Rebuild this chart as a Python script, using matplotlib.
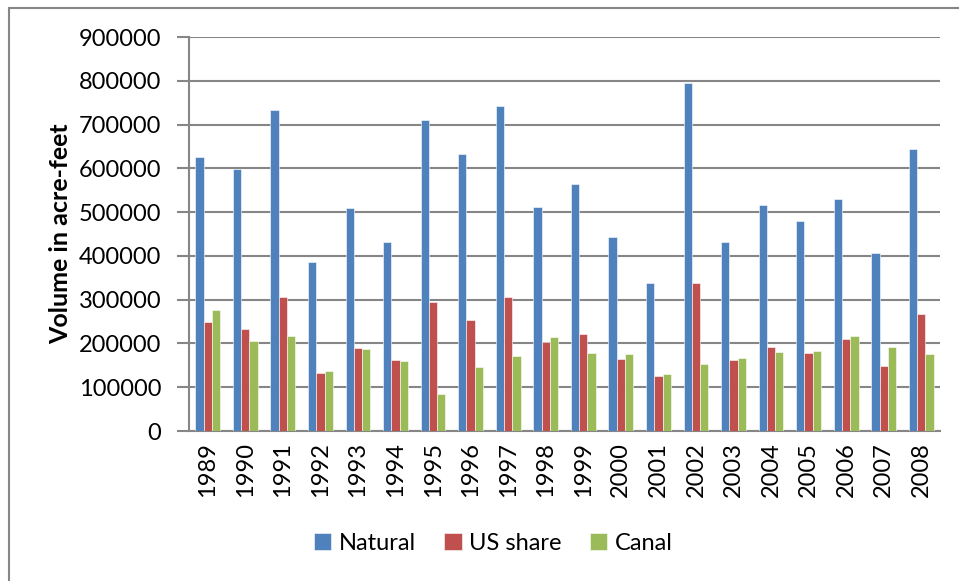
import numpy as np
import matplotlib
matplotlib.use("Agg")
from matplotlib import pyplot as plt
from matplotlib.patches import Rectangle

years = [str(y) for y in range(1989, 2009)]
natural = [627000, 598000, 733000, 387000, 509000, 432000, 711000, 633000, 742000, 511000,
           565000, 443000, 337000, 794000, 432000, 517000, 479000, 531000, 406000, 644000]
us_share = [248000, 233000, 307000, 132000, 189000, 163000, 294000, 253000, 305000, 203000,
            221000, 165000, 125000, 339000, 163000, 193000, 179000, 211000, 148000, 268000]
canal = [276000, 206000, 217000, 137000, 187000, 161000, 84000, 146000, 172000, 214000,
         179000, 177000, 131000, 152000, 166000, 181000, 183000, 218000, 193000, 177000]

series = [("Natural", natural, "#4F81BD"),
          ("US share", us_share, "#C0504D"),
          ("Canal", canal, "#9BBB59")]

plt.rcParams["font.family"] = ["Lato", "DejaVu Sans"]
grid_col = "#868686"

fig = plt.figure(figsize=(9.59, 5.81), dpi=100)
ax = fig.add_axes([189 / 959, 1 - 431 / 581, (940 - 189) / 959, (431 - 37) / 581])

x = np.arange(len(years))
w = 0.22
for i, (name, vals, col) in enumerate(series):
    ax.bar(x + (i - 1) * w, vals, width=w, color=col, edgecolor="white",
           linewidth=0.4, label=name, zorder=3)

ax.set_xlim(-0.5, len(years) - 0.5)
ax.set_ylim(0, 900000)
ax.set_yticks(np.arange(0, 900001, 100000))
ax.set_yticklabels([str(v) for v in range(0, 900001, 100000)], fontsize=17)
ax.set_xticks(x)
ax.set_xticklabels(years, rotation=90, fontsize=17)
ax.yaxis.grid(True, color=grid_col, linewidth=1.5, zorder=0)
ax.set_axisbelow(True)
for s in ["top", "right"]:
    ax.spines[s].set_visible(False)
for s in ["left", "bottom"]:
    ax.spines[s].set_color(grid_col)
    ax.spines[s].set_linewidth(1.5)
ax.tick_params(axis="y", length=9, width=1.5, color=grid_col, pad=11)
ax.tick_params(axis="x", length=0, pad=8)
ax.set_ylabel("Volume in acre-feet", fontsize=18, fontweight="bold")
ax.yaxis.set_label_coords(-0.155, 0.502)

fig.legend(loc="center", bbox_to_anchor=(493 / 959, 1 - 543 / 581), ncol=3,
           frameon=False, fontsize=17, handlelength=0.75, handleheight=0.75,
           handletextpad=0.3, columnspacing=1.2)

fig.patches.append(Rectangle((9 / 959, -0.1), 1.2, 1 - 8 / 581 + 0.1,
                             transform=fig.transFigure, fill=False,
                             edgecolor=grid_col, linewidth=1.5))

fig.savefig("out.png", dpi=100)
